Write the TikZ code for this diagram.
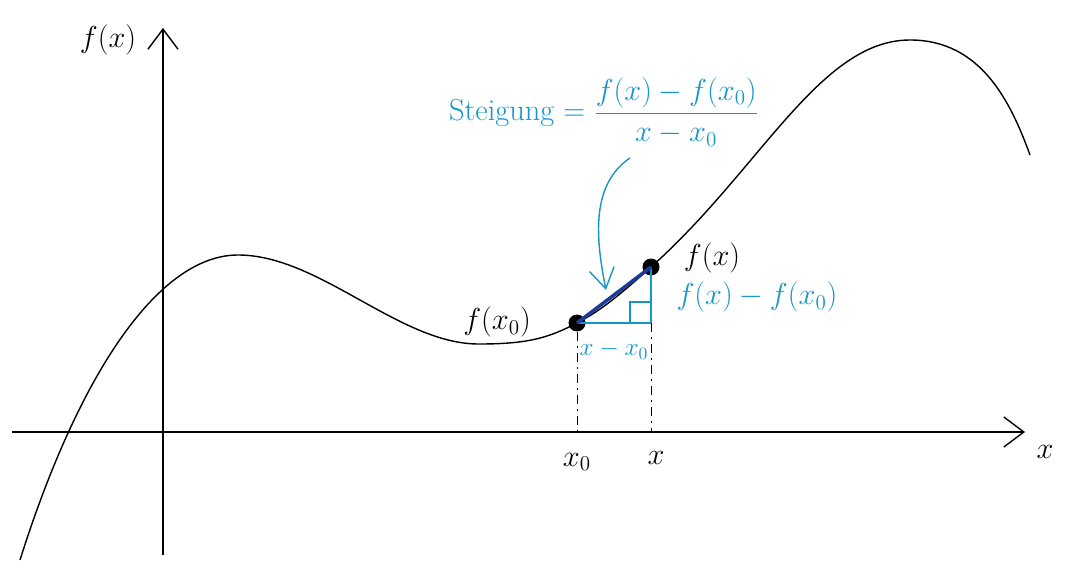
\documentclass[tikz,border=0pt]{standalone}
\usepackage{amsmath}
\usepackage{xcolor}
\usepackage{tikz}
\usetikzlibrary{arrows.meta, positioning, calc}
\definecolor{penblue}{RGB}{20, 150, 205}
\definecolor{pendark}{RGB}{30, 60, 150}

\begin{document}
\begin{tikzpicture}[
    x=0.02cm, y=-0.02cm,
    every node/.style={font=\LARGE},
    axis/.style={-{Straight Barb[length=4mm, width=6mm]}, thick, color=black},
    curve/.style={thick, color=black},
    dot/.style={circle, fill=black, inner sep=0pt, minimum size=3.4mm},
    drop/.style={thin, color=black, dash pattern=on 5pt off 3pt on 1pt off 3pt},
    bluetri/.style={very thick, color=penblue},
    secant/.style={line width=2pt, color=pendark},
    bluelbl/.style={color=penblue},
    bluearrow/.style={-{Straight Barb[length=4mm, width=5mm]}, thick, color=penblue}
]
\useasboundingbox (0,0) rectangle (1065,574);

% Axes
\coordinate (ybot) at (163,555);
\coordinate (ytop) at (163,28);
\coordinate (xleft) at (12,432);
\coordinate (xright) at (1025,432);
\draw[axis] (ybot) -- (ytop);
\draw[axis] (xleft) -- (xright);
\node (ylabel) at (108,40) {$f(x)$};
\node (xlabel) at (1045,452) {$x$};

% Points
\node[dot] (p0) at (577,323) {};
\node[dot] (p1) at (651,267) {};
\node (fx0) at (497,322) {$f(x_0)$};
\node (fx) at (712,258) {$f(x)$};

% Curve
\draw[curve] (20,560) .. controls (80,370) and (160,255) .. (238,255)
    .. controls (320,255) and (400,345) .. (480,344)
    .. controls (530,344) and (550,337) .. (p0.center)
    .. controls (604,309) and (625,290) .. (p1.center)
    .. controls (760,170) and (820,40) .. (910,40)
    .. controls (980,40) and (1010,100) .. (1030,155);

% Slope triangle
\coordinate (corner) at (p1 |- p0);
\draw[bluetri] (p0.center) -- (corner) -- (p1.center);
\draw[bluetri] ($(corner)+(-21,0)$) -- ($(corner)+(-21,-21)$) -- ($(corner)+(0,-21)$);
\draw[secant] (p0.center) -- (p1.center);
\node[bluelbl] (dy) at (757,297) {$f(x)-f(x_0)$};
\node[bluelbl, font=\Large] (dx) at (614,350) {$x-x_0$};

% Drops to the axis
\draw[drop] (p0.south) -- (p0 |- xleft);
\draw[drop] (corner) -- (corner |- xleft);
\node (x0) at (577,462) {$x_0$};
\node (x1) at (656,458) {$x$};

% Slope formula
\node[bluelbl] (slope) at (604,112)
    {Steigung $=\dfrac{f(x)-f(x_0)}{x-x_0}$};
\coordinate (tip) at (606,290);
\draw[bluearrow] (630,158) .. controls (590,185) and (596,240) .. (tip);

\end{tikzpicture}
\end{document}
